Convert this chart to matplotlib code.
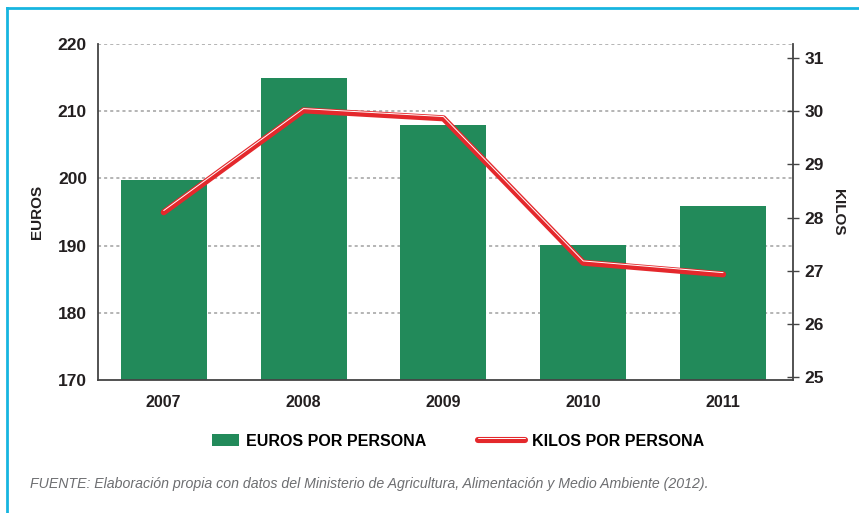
import matplotlib
matplotlib.use("Agg")
import matplotlib.pyplot as plt
import matplotlib.patheffects as pe
from matplotlib.lines import Line2D
from matplotlib.patches import Patch, Rectangle
from matplotlib.legend_handler import HandlerPatch
import numpy as np

years = ["2007", "2008", "2009", "2010", "2011"]
euros = [199.7, 215.0, 208.0, 190.1, 195.9]
kilos = [28.1, 30.02, 29.87, 27.15, 26.93]
euro_ticks = [170, 180, 190, 200, 210, 220]
kilo_ticks = [25, 26, 27, 28, 29, 30, 31]

GREEN = "#228a5a"
RED = "#e4282c"
DARK = "#231f20"
CYAN = "#17b5e0"

plt.rcParams['font.family'] = ['Liberation Sans', 'DejaVu Sans']

fig = plt.figure(figsize=(8.59, 5.13), dpi=100)
ax = fig.add_axes([98/859, 1-380/513, (793-98)/859, (380-44)/513])
x = np.arange(len(years))

ax.set_ylim(170, 220)
ax.set_xlim(-0.47, 4.5)
ax.set_yticks(euro_ticks)
ax.set_yticklabels([str(t) for t in euro_ticks], fontsize=12.5, fontweight='bold', color=DARK)
for v in euro_ticks[1:]:
    ax.axhline(v, color="#a0a0a0", lw=1.1, ls=(0, (2, 2)), zorder=0)
ax.bar(x, [e - 170 for e in euros], bottom=170, width=0.615, color=GREEN, zorder=2)

ax.set_xticks(x)
ax.set_xticklabels(years, fontsize=11.5, fontweight='bold', color=DARK)
ax.tick_params(axis='x', length=0, pad=11)
ax.tick_params(axis='y', length=0, pad=8)
for s in ['top', 'right']:
    ax.spines[s].set_visible(False)
ax.spines['left'].set_color('#444444')
ax.spines['bottom'].set_color('#444444')
ax.spines['left'].set_linewidth(1.3)
ax.spines['bottom'].set_linewidth(1.3)
ax.set_ylabel("EUROS", fontsize=11, fontweight='bold', color=DARK, labelpad=10)

ax2 = ax.twinx()
ax2.set_ylim(24.94, 31.27)
ax2.set_yticks(kilo_ticks)
ax2.set_yticklabels([str(t) for t in kilo_ticks], fontsize=12.5, fontweight='bold', color=DARK)
ax2.tick_params(axis='y', direction='inout', length=9, width=1, color='#444444', pad=4)
for s in ['top', 'left', 'bottom']:
    ax2.spines[s].set_visible(False)
ax2.spines['right'].set_color('#444444')
ax2.spines['right'].set_linewidth(1.3)
ax2.set_ylabel("KILOS", fontsize=11, fontweight='bold', color=DARK, rotation=-90, labelpad=15)

line_effects = [pe.Stroke(linewidth=4.4, foreground=RED, capstyle='round', joinstyle='round'),
                pe.Stroke(linewidth=0.7, foreground='white', offset=(0, 1.25)),
                ]
ax2.plot(x, kilos, color=RED, lw=4.4, solid_capstyle='round', solid_joinstyle='round',
         path_effects=line_effects, zorder=3)


def small_patch(legend, orig_handle, xdescent, ydescent, width, height, fontsize):
    w = width * 0.57
    return Rectangle((-xdescent + width - w, -ydescent), w, height)


handles = [Patch(facecolor=GREEN, edgecolor='none'),
           Line2D([], [], color=RED, lw=4.4, solid_capstyle='round', path_effects=line_effects)]
fig.legend(handles, ["EUROS POR PERSONA", "KILOS POR PERSONA"], loc='center',
           bbox_to_anchor=(448/859, 1-441/513), ncol=2, frameon=False,
           prop={'weight': 'bold', 'size': 11.5}, handlelength=2.95, handleheight=0.85,
           columnspacing=3.2, handletextpad=0.45,
           handler_map={Patch: HandlerPatch(patch_func=small_patch)})

fig.text(30/859, 1-484/513,
         "FUENTE: Elaboración propia con datos del Ministerio de Agricultura, Alimentación y Medio Ambiente (2012).",
         fontsize=10.2, style='italic', color='#6d6e71', va='center', ha='left')

fig.add_artist(Line2D([7/859, 7/859], [0, 1-8/513], transform=fig.transFigure, color=CYAN, lw=2))
fig.add_artist(Line2D([7/859, 1], [1-8/513, 1-8/513], transform=fig.transFigure, color=CYAN, lw=2))

fig.savefig("out.png", dpi=100)
